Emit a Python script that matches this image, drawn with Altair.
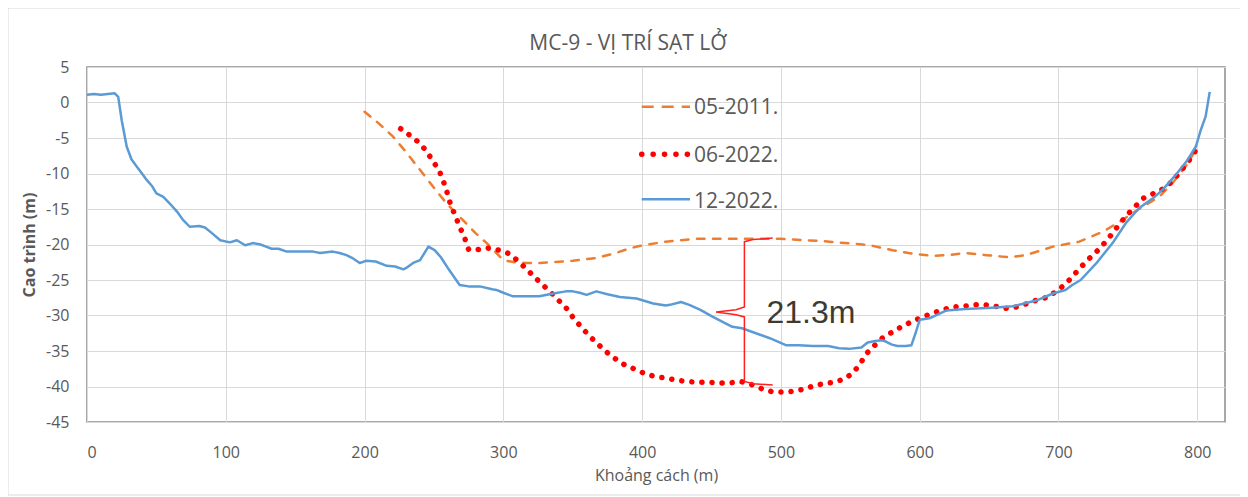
import altair as alt
import pandas as pd

series_names = ["05-2011.", "06-2022.", "12-2022."]
series_colors = ["#ED7D31", "#FF0000", "#5B9BD5"]

survey_05_2011 = [
    (200, -1.3), (210, -2.9), (220.5, -4.8), (230, -7.0), (242, -10.0), (250, -12.0),
    (259, -14.2), (266, -15.6), (273, -17.0), (280, -18.4), (288, -19.8), (295, -21.2),
    (300, -22.2), (308, -22.5), (316.5, -22.6), (326, -22.6), (343, -22.4), (350, -22.3),
    (367, -21.9), (381, -21.2), (390, -20.6), (398, -20.2), (417, -19.6), (439, -19.2),
    (475, -19.2), (499, -19.2), (528, -19.5), (535, -19.6), (559, -20.0), (564, -20.1),
    (580.5, -20.8), (595, -21.3), (609, -21.6), (620, -21.5), (633, -21.2), (648, -21.5),
    (664.5, -21.8), (676.5, -21.5), (696, -20.3), (715, -19.6), (732, -18.2), (744, -16.8),
    (760.5, -14.7), (772.5, -13.3), (782, -11.4), (791.7, -9.0), (801, -6.0),
]

survey_06_2022 = [
    (226, -3.7), (232.5, -4.6), (239, -5.6), (244.5, -6.8), (249, -8.2), (253.6, -9.5),
    (257, -11.2), (259.5, -12.7), (262, -14.4), (265.5, -16.0), (268.5, -17.5), (272, -19.0),
    (275, -20.7), (282.5, -20.7), (290, -20.5), (297, -20.8), (304.5, -21.3), (311, -22.4),
    (317, -23.5), (322.5, -24.6), (328.5, -25.7), (334.5, -26.8), (340.5, -28.0), (346, -29.1),
    (351, -30.5), (356.6, -31.7), (362, -32.9), (368, -34.0), (374, -35.1), (380, -36.0),
    (387, -36.9), (394, -37.5), (401, -38.1), (409, -38.6), (416.6, -38.8), (424.5, -39.1),
    (432, -39.3), (440, -39.4), (448, -39.4), (456, -39.5), (463, -39.5), (471, -39.3),
    (478.5, -39.7), (486, -40.3), (493, -40.7), (501, -40.8), (508.5, -40.7), (516, -40.4),
    (523.6, -39.9), (531, -39.6), (538.5, -39.4), (546, -38.9), (552, -38.1), (557, -36.8),
    (562, -35.3), (567, -34.3), (573, -33.2), (580.5, -32.3), (587.7, -31.5), (595, -30.8),
    (602, -30.2), (609, -29.7), (616.5, -29.2), (624, -28.8), (631.6, -28.7), (639, -28.5),
    (647, -28.5), (654.4, -28.7), (662, -29.0), (670, -28.8), (677.7, -28.3), (685, -27.8),
    (692.6, -27.4), (699, -26.5), (705, -25.6), (711, -24.3), (716.6, -23.1), (722, -22.0),
    (728, -20.9), (733.6, -19.7), (739, -18.4), (744, -17.1), (749.7, -15.8), (755, -14.7),
    (761, -13.5), (767.7, -12.9), (775, -12.2), (781.5, -11.2), (786.7, -10.0), (792, -8.7),
    (797, -7.4), (801, -5.9),
]

survey_12_2022 = [
    (0, 1.1), (5, 1.2), (10, 1.1), (15, 1.2), (20, 1.3), (22.5, 0.8), (25, -2.5),
    (28.6, -6.2), (32, -8.0), (35.8, -9.0), (40, -10.1), (43, -10.9), (47, -11.8),
    (50, -12.8), (55, -13.3), (60, -14.3), (65, -15.4), (69, -16.5), (74, -17.5),
    (81, -17.4), (85, -17.6), (90, -18.4), (96, -19.4), (103, -19.7), (108, -19.4),
    (114, -20.1), (119.5, -19.8), (125, -20.0), (129, -20.3), (133, -20.6), (138, -20.6),
    (144, -21.0), (150, -21.0), (163, -21.0), (168, -21.2), (177, -21.0), (182, -21.2),
    (187, -21.5), (192, -22.0), (196.5, -22.6), (201, -22.3), (208, -22.4), (216, -23.0),
    (222, -23.1), (228, -23.5), (230, -23.3), (235, -22.6), (240, -22.2), (246, -20.3),
    (250.5, -20.8), (255, -21.8), (261, -23.6), (268.5, -25.7), (275, -25.9), (283, -25.9),
    (292, -26.3), (295, -26.4), (300, -26.8), (307, -27.3), (316, -27.3), (326, -27.3),
    (336, -26.9), (345, -26.6), (350, -26.6), (355, -26.8), (360, -27.1), (367, -26.6),
    (375, -27.0), (384, -27.4), (396, -27.6), (408, -28.3), (417, -28.6), (420, -28.5),
    (428, -28.1), (434, -28.5), (442, -29.2), (451, -30.2), (458, -30.9), (465, -31.6),
    (472, -31.8), (482, -32.5), (492, -33.2), (504, -34.2), (513, -34.2), (523, -34.3),
    (534, -34.3), (542, -34.6), (549, -34.7), (558, -34.5), (562.5, -33.8), (568, -33.6),
    (573, -33.5), (576, -33.7), (580, -34.1), (584, -34.3), (590, -34.3), (594, -34.2),
    (597, -32.5), (600, -30.6), (607, -30.4), (619, -29.3), (633, -29.1), (652.5, -28.9),
    (667, -28.7), (684, -27.9), (696, -26.9), (705, -26.4), (710, -25.7), (716, -25.0),
    (727, -22.7), (739, -19.8), (748.5, -17.0), (758, -14.9), (768, -13.5), (775, -12.3),
    (784.5, -10.2), (793, -8.1), (799, -6.2), (802.5, -3.9), (806, -2.0), (809, 1.5),
]

# annotation brace (data coordinates) and its label
brace_pts = [
    (494.1, -19.1), (480, -19.3), (473.7, -19.6), (473.7, -28.8), (467.7, -29.2),
    (453.3, -29.5), (467.7, -29.9), (473.7, -30.2), (473.7, -39.3), (480, -39.6), (494.1, -39.8),
]
brace_label = "21.3m"
brace_label_x = 489.6
brace_label_y = -31.0

chart_title = "MC-9 - VỊ TRÍ SẠT LỞ"
x_ticks = list(range(0, 801, 100))
y_ticks = list(range(-45, 6, 5))

FONT = "Open Sans"
GRAY = "#595959"


def series_df(name, pts):
    return pd.DataFrame([{"series": name, "x": a, "y": b, "i": k} for k, (a, b) in enumerate(pts)])


x_enc = alt.X(
    "x:Q",
    scale=alt.Scale(domain=[0, 820], nice=False, zero=False),
    axis=alt.Axis(
        values=x_ticks, tickCount=len(x_ticks) + 2, title="Khoảng cách (m)",
        labelFontSize=16, labelFont=FONT, labelColor=GRAY, labelPadding=22,
        titleFont=FONT, titleFontSize=16, titleColor=GRAY, titleFontWeight="normal",
        titlePadding=7, grid=True, labelOverlap=False,
    ),
)
y_enc = alt.Y(
    "y:Q",
    scale=alt.Scale(domain=[-45, 5], nice=False, zero=False),
    axis=alt.Axis(
        values=y_ticks, tickCount=len(y_ticks) + 2, title="Cao trình (m)",
        labelFontSize=16, labelFont=FONT, labelColor=GRAY, labelPadding=18,
        titleFont=FONT, titleFontSize=16, titleColor=GRAY, titleFontWeight="bold",
        titlePadding=8, grid=True, labelOverlap=False, labelFlush=False,
        labelExpr="toString(datum.value)",
    ),
)
color_enc = alt.Color(
    "series:N", scale=alt.Scale(domain=series_names, range=series_colors), legend=None
)

line_2011 = alt.Chart(series_df(series_names[0], survey_05_2011)).mark_line(
    strokeWidth=2.5, strokeDash=[7.5, 8.5], strokeCap="round"
).encode(x=x_enc, y=y_enc, order="i:Q", color=color_enc)

line_0622 = alt.Chart(series_df(series_names[1], survey_06_2022)).mark_line(
    strokeWidth=5.5, strokeDash=[0.1, 10], strokeCap="round"
).encode(x="x:Q", y="y:Q", order="i:Q", color=color_enc)

line_1222 = alt.Chart(series_df(series_names[2], survey_12_2022)).mark_line(
    strokeWidth=2.5, strokeJoin="round"
).encode(x="x:Q", y="y:Q", order="i:Q", color=color_enc)

brace_df = pd.DataFrame([{"x": a, "y": b, "i": k} for k, (a, b) in enumerate(brace_pts)])
brace = alt.Chart(brace_df).mark_line(color="#FF2020", strokeWidth=1.5).encode(
    x="x:Q", y="y:Q", order="i:Q"
)

label_df = pd.DataFrame([{"x": brace_label_x, "y": brace_label_y, "t": brace_label}])
label = alt.Chart(label_df).mark_text(
    align="left", baseline="alphabetic", fontSize=32, font="Liberation Sans", color="#3d3a30"
).encode(x="x:Q", y="y:Q", text="t:N")

frame = alt.Chart(pd.DataFrame({"k": [0]})).mark_rect(
    fill="transparent", stroke="#d9d9d9", strokeWidth=1
).encode(x=alt.value(-79), x2=alt.value(1175), y=alt.value(-59), y2=alt.value(428))

title_mark = alt.Chart(pd.DataFrame({"t": [chart_title]})).mark_text(
    align="center", baseline="alphabetic", fontSize=21, font=FONT, color=GRAY
).encode(x=alt.value(541), y=alt.value(-17), text="t:N")

# manual legend (pixel layout inside the plot area)
legend_sym_y = [39.7, 87.3, 132.3]
legend_txt_y = [47.0, 94.7, 141.3]
legend_styles = [
    dict(strokeWidth=2.5, strokeDash=[12, 8]),
    dict(strokeWidth=5.5, strokeDash=[0.1, 11.3], strokeCap="round"),
    dict(strokeWidth=2.5),
]
legend_layers = []
for k, name in enumerate(series_names):
    ldf = pd.DataFrame({"series": [name]})
    legend_layers.append(
        alt.Chart(ldf).mark_rule(**legend_styles[k]).encode(
            x=alt.value(554.7), x2=alt.value(603), y=alt.value(legend_sym_y[k]),
            color=color_enc,
        )
    )
    legend_layers.append(
        alt.Chart(ldf).mark_text(
            align="left", baseline="alphabetic", fontSize=21, font=FONT, color=GRAY
        ).encode(x=alt.value(607), y=alt.value(legend_txt_y[k]), text="series:N")
    )

chart = alt.layer(
    frame, title_mark, line_2011, line_0622, line_1222, brace, label, *legend_layers
).properties(
    width=1138,
    height=355,
    autosize=alt.AutoSizeParams(type="none"),
    padding={"left": 79, "top": 59, "right": 15, "bottom": 75},
).configure_view(
    stroke="#8c8c8c", strokeWidth=1.5
).configure_axis(
    gridColor="#d9d9d9", gridWidth=1, domain=False, ticks=False
)

chart.save("out.html", embed_options={"renderer": "svg", "actions": False})
